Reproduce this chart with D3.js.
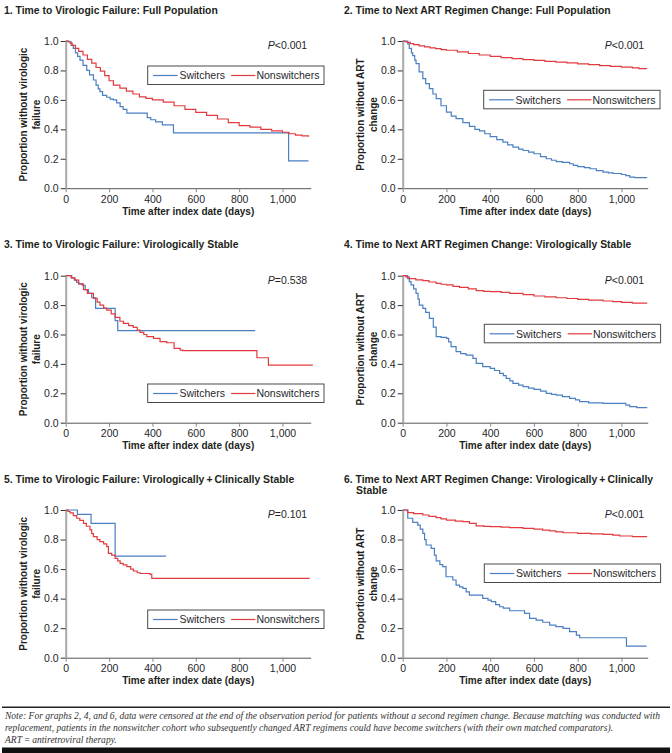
<!DOCTYPE html>
<html><head><meta charset="utf-8">
<script src="https://cdn.jsdelivr.net/npm/d3@7"></script>
<style>body{margin:0;background:#fff} svg{display:block}</style>
</head><body><svg id="c" width="672" height="753"></svg>
<script>
// ---------------- data ----------------
const titles = [
  ["1. Time to Virologic Failure: Full Population"],
  ["2. Time to Next ART Regimen Change: Full Population"],
  ["3. Time to Virologic Failure: Virologically Stable"],
  ["4. Time to Next ART Regimen Change: Virologically Stable"],
  ["5. Time to Virologic Failure: Virologically\u2009+\u2009Clinically Stable"],
  ["6. Time to Next ART Regimen Change: Virologically\u2009+\u2009Clinically", "Stable"]
];
const yLabels = [
  ["Proportion without virologic", "failure"],
  ["Proportion without ART", "change"],
  ["Proportion without virologic", "failure"],
  ["Proportion without ART", "change"],
  ["Proportion without virologic", "failure"],
  ["Proportion without ART", "change"]
];
const pValues = ["<0.001", "<0.001", "=0.538", "<0.001", "=0.101", "<0.001"];
const seriesNames = ["Switchers", "Nonswitchers"];
const xTicks = [0, 200, 400, 600, 800, 1000];
const yTicks = [0, 0.2, 0.4, 0.6, 0.8, 1.0];
const xLabel = "Time after index date (days)";

const p1Switchers = [[0,1],[15,0.995],[25,0.97],[35,0.95],[45,0.92],[55,0.895],[66,0.87],[80,0.835],[97,0.8],[110,0.77],[128,0.735],[140,0.7],[150,0.675],[158,0.656],[170,0.63],[189,0.618],[205,0.605],[220,0.6],[235,0.58],[251,0.554],[265,0.535],[282,0.51],[376,0.48],[392,0.465],[415,0.45],[446,0.43],[497,0.376],[1028,0.185],[1120,0.185]];
const p1Nonswitchers = [[0,1],[10,0.995],[20,0.985],[30,0.97],[45,0.95],[60,0.93],[80,0.905],[100,0.875],[120,0.85],[140,0.82],[160,0.795],[180,0.765],[200,0.73],[220,0.7],[250,0.68],[280,0.66],[310,0.64],[340,0.62],[370,0.61],[400,0.6],[450,0.585],[500,0.56],[550,0.535],[600,0.515],[650,0.495],[700,0.47],[750,0.445],[800,0.425],[850,0.415],[900,0.4],[950,0.39],[1000,0.38],[1030,0.37],[1060,0.36],[1090,0.355],[1120,0.35]];

const p2Switchers = [[0,1],[23,0.98],[30,0.95],[40,0.92],[46,0.9],[55,0.87],[61,0.846],[75,0.79],[92,0.744],[105,0.71],[122,0.676],[138,0.64],[153,0.608],[175,0.56],[200,0.517],[222,0.49],[244,0.472],[275,0.445],[305,0.42],[330,0.4],[351,0.39],[375,0.37],[400,0.351],[430,0.33],[458,0.313],[480,0.295],[504,0.279],[530,0.265],[550,0.256],[575,0.245],[600,0.234],[630,0.215],[656,0.2],[680,0.19],[702,0.181],[730,0.175],[763,0.166],[780,0.155],[800,0.147],[830,0.14],[856,0.132],[885,0.12],[916,0.109],[940,0.104],[962,0.1],[1000,0.093],[1020,0.085],[1038,0.075],[1060,0.072],[1115,0.07]];
const p2Nonswitchers = [[0,1],[10,0.995],[20,0.99],[35,0.982],[50,0.975],[75,0.967],[100,0.96],[125,0.953],[150,0.948],[175,0.942],[200,0.937],[250,0.926],[300,0.915],[350,0.905],[400,0.895],[450,0.887],[500,0.88],[550,0.874],[600,0.868],[650,0.862],[700,0.857],[750,0.851],[800,0.845],[850,0.839],[900,0.833],[950,0.828],[1000,0.823],[1050,0.818],[1080,0.812],[1115,0.81]];

const p3Switchers = [[0,1],[28,0.985],[40,0.97],[50,0.955],[60,0.945],[75,0.935],[90,0.905],[105,0.88],[120,0.85],[138,0.778],[228,0.695],[240,0.627],[874,0.627]];
const p3Nonswitchers = [[0,1],[15,1],[25,0.985],[43,0.97],[60,0.945],[82,0.905],[100,0.88],[128,0.846],[145,0.82],[158,0.8],[175,0.78],[189,0.766],[210,0.74],[228,0.717],[250,0.69],[266,0.676],[290,0.66],[312,0.649],[330,0.63],[343,0.615],[360,0.6],[374,0.585],[405,0.574],[435,0.551],[466,0.544],[500,0.506],[528,0.494],[540,0.49],[882,0.442],[935,0.392],[1140,0.392]];

const p4Switchers = [[0,1],[23,0.98],[30,0.96],[38,0.937],[50,0.91],[61,0.88],[70,0.84],[76,0.8],[92,0.778],[105,0.75],[122,0.71],[140,0.65],[153,0.585],[175,0.58],[200,0.574],[210,0.55],[221,0.517],[244,0.483],[265,0.47],[290,0.46],[321,0.438],[336,0.404],[366,0.381],[400,0.37],[420,0.355],[443,0.336],[460,0.32],[473,0.302],[490,0.285],[504,0.268],[530,0.255],[550,0.245],[575,0.235],[600,0.227],[630,0.215],[656,0.2],[680,0.193],[702,0.188],[730,0.177],[763,0.166],[790,0.155],[809,0.143],[850,0.135],[916,0.132],[1000,0.132],[1020,0.12],[1038,0.11],[1070,0.102],[1115,0.098]];
const p4Nonswitchers = [[0,1],[15,0.99],[31,0.98],[60,0.972],[92,0.966],[120,0.957],[153,0.948],[175,0.942],[200,0.937],[230,0.928],[260,0.92],[300,0.91],[336,0.898],[370,0.893],[400,0.891],[450,0.886],[489,0.88],[550,0.871],[600,0.862],[650,0.856],[702,0.85],[750,0.845],[800,0.839],[850,0.834],[916,0.828],[960,0.823],[1000,0.819],[1050,0.814],[1115,0.81]];

const p5Switchers = [[0,1],[54,0.97],[117,0.91],[228,0.688],[463,0.688]];
const p5Nonswitchers = [[0,1],[10,0.99],[20,0.98],[35,0.962],[51,0.944],[65,0.93],[82,0.91],[95,0.89],[112,0.865],[120,0.84],[128,0.82],[145,0.8],[158,0.786],[175,0.77],[189,0.752],[197,0.707],[212,0.695],[228,0.673],[240,0.655],[251,0.639],[265,0.628],[282,0.616],[300,0.6],[312,0.587],[330,0.575],[343,0.57],[389,0.564],[397,0.537],[1125,0.537]];

const p6Switchers = [[0,1],[23,0.944],[46,0.916],[69,0.898],[80,0.87],[92,0.842],[100,0.8],[107,0.763],[130,0.74],[145,0.695],[153,0.655],[170,0.63],[183,0.616],[198,0.548],[229,0.526],[244,0.492],[260,0.48],[275,0.47],[290,0.445],[305,0.424],[366,0.402],[390,0.39],[405,0.379],[425,0.36],[443,0.345],[460,0.335],[489,0.318],[557,0.3],[580,0.266],[610,0.255],[640,0.24],[672,0.22],[700,0.21],[733,0.199],[763,0.176],[794,0.153],[809,0.135],[1023,0.079],[1115,0.079]];
const p6Nonswitchers = [[0,1],[23,0.982],[50,0.975],[92,0.966],[120,0.957],[153,0.948],[175,0.94],[200,0.932],[240,0.925],[275,0.921],[305,0.91],[336,0.892],[370,0.889],[400,0.887],[450,0.884],[489,0.88],[550,0.875],[600,0.871],[640,0.864],[672,0.858],[700,0.852],[733,0.846],[800,0.842],[860,0.838],[916,0.835],[960,0.83],[992,0.824],[1050,0.82],[1115,0.815]];

const noteLines = [
  "Note: For graphs 2, 4, and 6, data were censored at the end of the observation period for patients without a second regimen change. Because matching was conducted with",
  "replacement, patients in the nonswitcher cohort who subsequently changed ART regimens could have become switchers (with their own matched comparators).",
  "ART\u2009=\u2009antiretroviral therapy."
];

// ---------------- layout ----------------
const panelSeries = [
  [p1Switchers, p1Nonswitchers], [p2Switchers, p2Nonswitchers],
  [p3Switchers, p3Nonswitchers], [p4Switchers, p4Nonswitchers],
  [p5Switchers, p5Nonswitchers], [p6Switchers, p6Nonswitchers]
];
const colX = [{x0: 65.7, dmax: 1130, tx: 4}, {x0: 402.7, dmax: 1120, tx: 344}];
const rows = [{top: 41, bot: 188.2, tb: 14}, {top: 275.7, bot: 422.7, tb: 248.3}, {top: 510, bot: 657.7, tb: 483.3}];
const legendOff = [[82, 25], [81, 49.3], [82, 108.3], [81.6, 48.6], [82, 100], [81.6, 54]];
const colors = ["#4a7fc1", "#e23b3f"];
const FONT = "'Liberation Sans', Arial, Helvetica, sans-serif";
const plotW = 245;

const svg = d3.select("#c");

// title font size calibrated to reference width of panel 1 title
const tmp = svg.append("text").attr("font-family", FONT).attr("font-weight", "bold").attr("font-size", 10).text(titles[0][0]);
const tSize = 10 * 214 / tmp.node().getComputedTextLength();
tmp.remove();

panelSeries.forEach((series, i) => {
  const col = colX[i % 2], row = rows[Math.floor(i / 2)];
  const x = d3.scaleLinear().domain([0, col.dmax]).range([col.x0, col.x0 + plotW]);
  const y = d3.scaleLinear().domain([0, 1]).range([row.bot, row.top]);
  const g = svg.append("g");

  // title
  titles[i].forEach((t, k) => {
    g.append("text").attr("x", col.tx + (k > 0 ? 12 : 0)).attr("y", row.tb + k * 11)
      .attr("font-family", FONT).attr("font-weight", "bold").attr("font-size", tSize)
      .attr("fill", "#231f20").text(t);
  });

  // axes
  const xa = g.append("g").attr("transform", `translate(0,${row.bot})`)
    .call(d3.axisBottom(x).tickValues(xTicks).tickSize(4).tickSizeOuter(0).tickPadding(3)
      .tickFormat(d3.format(",")));
  xa.select(".domain").attr("stroke", "#555").attr("stroke-width", 1);
  xa.selectAll(".tick line").attr("stroke", "#888");
  xa.selectAll("text").attr("font-family", FONT).attr("font-size", 10.5).attr("fill", "#1f1f2a");

  const ya = g.append("g").attr("transform", `translate(${col.x0},0)`)
    .call(d3.axisLeft(y).tickValues(yTicks).tickSize(5).tickSizeOuter(0).tickPadding(2)
      .tickFormat(d3.format(".1f")));
  ya.select(".domain").attr("stroke", "#a9a9a9").attr("stroke-width", 2);
  ya.selectAll(".tick line").attr("stroke", "#333");
  ya.selectAll("text").attr("font-family", FONT).attr("font-size", 10.5).attr("fill", "#1f1f2a");

  // axis labels
  g.append("text").attr("x", col.x0 + plotW / 2).attr("y", row.bot + 26.7)
    .attr("text-anchor", "middle").attr("font-family", FONT).attr("font-weight", "bold")
    .attr("font-size", 10).attr("fill", "#231f20").text(xLabel);
  const cy = (row.top + row.bot) / 2;
  yLabels[i].forEach((t, k) => {
    const lx = col.x0 - 38.6 + k * 13.3;
    g.append("text").attr("transform", `translate(${lx},${cy}) rotate(-90)`)
      .attr("text-anchor", "middle").attr("font-family", FONT).attr("font-weight", "bold")
      .attr("font-size", 10).attr("fill", "#231f20").text(t);
  });

  // curves
  const line = d3.line().x(d => x(d[0])).y(d => y(d[1])).curve(d3.curveStepAfter);
  series.forEach((s, k) => {
    g.append("path").datum(s).attr("d", line).attr("fill", "none")
      .attr("stroke", colors[k]).attr("stroke-width", 1.2);
  });

  // p-value
  const pt = g.append("text").attr("x", col.x0 + 241.5).attr("y", row.top + 8)
    .attr("text-anchor", "end").attr("font-family", FONT).attr("font-size", 10.5).attr("fill", "#1f1f2a");
  pt.append("tspan").attr("font-style", "italic").text("P");
  pt.append("tspan").text(pValues[i]);

  // legend
  const lx = col.x0 + legendOff[i][0], ly = row.top + legendOff[i][1];
  const lg = g.append("g").attr("transform", `translate(${lx},${ly})`);
  lg.append("rect").attr("x", 0).attr("y", 0).attr("width", 176.3).attr("height", 18.5)
    .attr("fill", "#fff").attr("stroke", "#4a4a4a").attr("stroke-width", 1);
  const items = [{x1: 5.4, x2: 30, tx: 31.7}, {x1: 83.4, x2: 107.7, tx: 108.7}];
  items.forEach((it, k) => {
    lg.append("line").attr("x1", it.x1).attr("x2", it.x2).attr("y1", 9.5).attr("y2", 9.5)
      .attr("stroke", colors[k]).attr("stroke-width", 1.2);
    lg.append("text").attr("x", it.tx).attr("y", 13.3).attr("font-family", FONT)
      .attr("font-size", 10.5).attr("fill", "#1f1f2a").text(seriesNames[k]);
  });
});

// note
svg.append("rect").attr("x", 2).attr("y", 706.5).attr("width", 668).attr("height", 1.5).attr("fill", "#222");
svg.append("rect").attr("x", 2).attr("y", 747.5).attr("width", 668).attr("height", 6).attr("fill", "#111");
const NFONT = "'Liberation Serif', 'DejaVu Serif', serif";
const tn = svg.append("text").attr("font-family", NFONT).attr("font-style", "italic").attr("font-size", 10).text(noteLines[0]);
const nSize = 10 * 656 / tn.node().getComputedTextLength();
tn.remove();
noteLines.forEach((t, k) => {
  svg.append("text").attr("x", 5).attr("y", 718.5 + k * 12).attr("font-family", NFONT)
    .attr("font-style", "italic").attr("font-size", nSize).attr("fill", "#333").text(t);
});
</script></body></html>
